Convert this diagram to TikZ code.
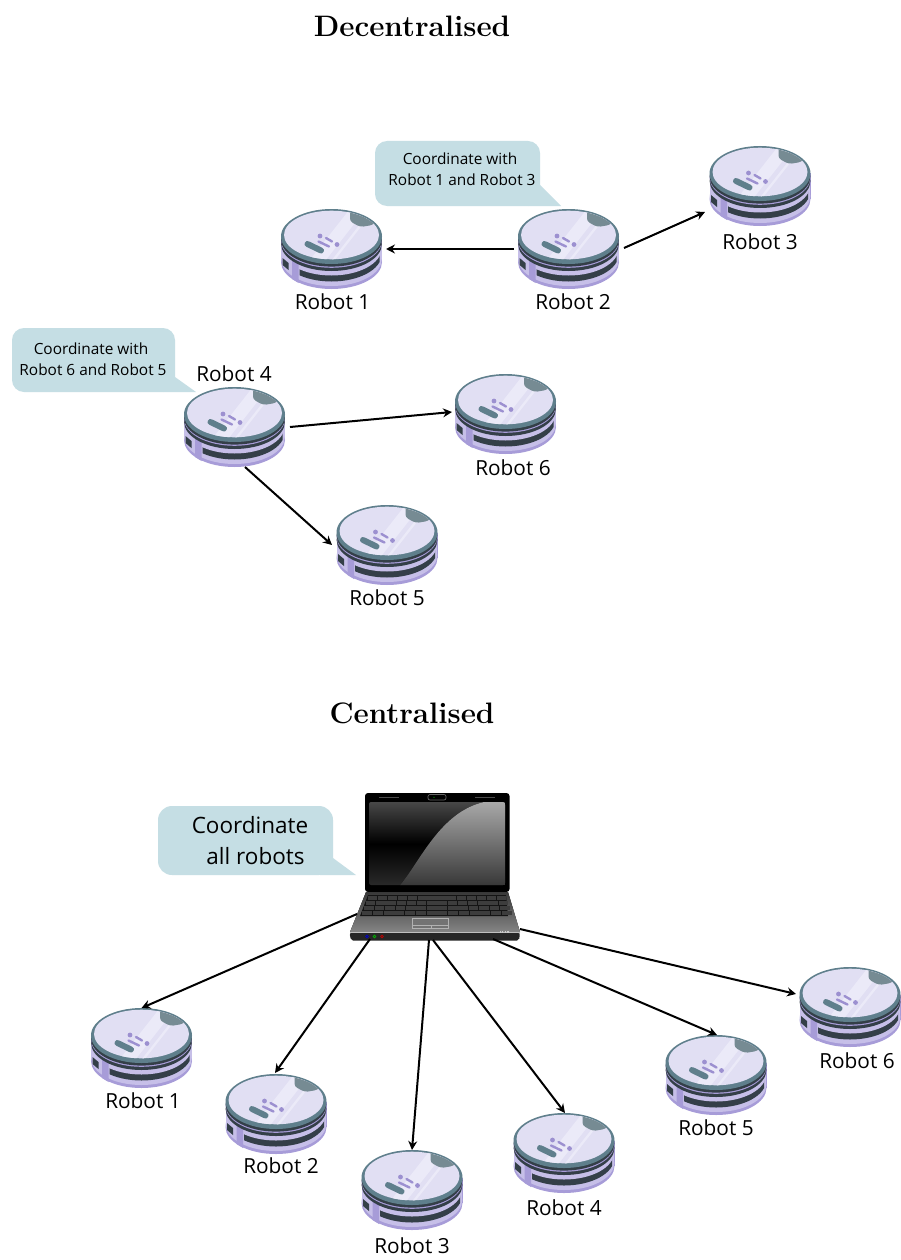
\documentclass[tikz,border=0pt]{standalone}
\usepackage{fontspec}
\setmainfont{Latin Modern Roman}
\newfontfamily\lab{Open Sans}
\usetikzlibrary{arrows.meta,calc}
\definecolor{bub}{HTML}{C5DEE4}
\definecolor{rim}{HTML}{5F7F8C}
\definecolor{disc}{HTML}{E1DFF3}
\definecolor{discl}{HTML}{EBEAF8}
\definecolor{purA}{HTML}{A79CD8}
\definecolor{purB}{HTML}{C6BFE8}
\definecolor{dk}{HTML}{343F48}
\definecolor{btn}{HTML}{768B93}
\definecolor{dot}{HTML}{9C90D0}
% painted cylinder: half-width, bottom edge at centre, colour
\newcommand{\cyl}[3]{%
 \fill[#3] (0,#2-27) ellipse[x radius=#1,y radius=27];
 \fill[#3] (-#1,-12.5) rectangle (#1,#2-27);
}
\tikzset{
 x=1pt,y=-1pt,
 robotbox/.style={minimum width=101pt,minimum height=80pt,inner sep=0pt,outer sep=0pt},
 lapbox/.style={minimum width=171pt,minimum height=148pt,inner sep=0pt,outer sep=0pt},
 rlabel/.style={font=\lab\fontsize{20.8}{20.8}\selectfont,inner sep=0pt},
 blabel/.style={font=\lab\fontsize{15.4}{15.4}\selectfont,inner sep=0pt},
 bigblabel/.style={font=\lab\fontsize{22.5}{22.5}\selectfont,inner sep=0pt},
 titlelabel/.style={font=\bfseries\fontsize{29.6}{29.6}\selectfont,inner sep=0pt},
 conn/.style={-{Stealth[length=9pt,width=9pt,inset=3pt]},line width=2pt,black},
 bubble/.style={fill=bub,draw=none},
 robot/.pic={
  \cyl{50.5}{40}{purA}
  \cyl{50.3}{37}{purB}
  \begin{scope}
   \clip (-32,-20) rectangle (48,42);
   \cyl{50}{32.5}{dk}
  \end{scope}
  \cyl{50}{26.5}{purB}
  \fill[dk] (-49,9) -- (-43,14) -- (-43,21) -- (-49,16) -- cycle;
  \fill[purA] (-39.5,10) -- (-33,14) -- (-33,34) -- (-39.5,30) -- cycle;
  \cyl{50.4}{22}{dk}
  \cyl{50.4}{18.8}{purA}
  \cyl{50.4}{17.6}{dk}
  % top disc
  \fill[rim] (0,-12.5) ellipse[x radius=50.5,y radius=27.5];
  \fill[disc] (0,-14) ellipse[x radius=47.5,y radius=24.3];
  \begin{scope}
   \clip (0,-14) ellipse[x radius=47.5,y radius=24.3];
   \fill[discl] (-24,14) -- (20,-42) -- (36,-42) -- (-8,14) -- cycle;
   \fill[discl] (-2,14) -- (42,-42) -- (45,-42) -- (1,14) -- cycle;
   \fill[btn,rounded corners=3pt] (18.5,-42) -- (18.5,-27.5) -- (29,-22) -- (41,-24) -- (48,-30) -- (48,-42) -- cycle;
  \end{scope}
  \draw[rim,line width=6pt,line cap=round] (-24,-5) -- (-10.5,1.5);
  \fill[dot] (-11.5,-13) circle (2.4);
  \draw[dot,line width=2.4pt,line cap=round] (-5.5,-11) -- (0.5,-7.5);
  \draw[dot,line width=2.4pt,line cap=round] (-13,-7.5) -- (-2.5,-2.5);
  \fill[dot] (5.5,-4.5) circle (2.4);
 }
}
\newcommand{\robot}[6]{%
 \node[robotbox] (#1) at (#2,#3) {};
 \pic at (#1.center) {robot};
 \node[rlabel] (#1l) at (#4,#5) {#6};
}
\begin{document}
\begin{tikzpicture}
\useasboundingbox (0,0) rectangle (901,1260);
\fill[white] (0,0) rectangle (901,1260);
\node[titlelabel] (t1) at (412,26) {Decentralised};
\node[titlelabel] (t2) at (412,713) {Centralised};
% bubbles
\fill[bubble,rounded corners=12pt] (375,141) -- (540,141) -- (540,206) -- (375,206) -- cycle;
\fill[bubble] (528,206) -- (540,185) -- (561,206) -- cycle;
\node[blabel] (b1a) at (460,159) {Coordinate with};
\node[blabel] (b1b) at (462,180) {Robot 1 and Robot 3};
\fill[bubble,rounded corners=12pt] (12,328) -- (175,328) -- (175,392) -- (12,392) -- cycle;
\fill[bubble] (163,392) -- (175,377) -- (196,392) -- cycle;
\node[blabel] (b2a) at (91,349) {Coordinate with};
\node[blabel] (b2b) at (93,370) {Robot 6 and Robot 5};
\fill[bubble,rounded corners=14pt] (158,806) -- (333,806) -- (333,875) -- (158,875) -- cycle;
\fill[bubble] (320,875) -- (333,858) -- (356,875) -- cycle;
\node[bigblabel] (b3a) at (250,825) {Coordinate};
\node[bigblabel] (b3b) at (255.5,856) {all robots};
% decentralised robots
\robot{a1}{331.5}{249}{332.5}{302}{Robot 1}
\robot{a2}{568.5}{249}{573}{302}{Robot 2}
\robot{a3}{760}{186}{760}{242}{Robot 3}
\robot{a4}{234.5}{427}{234}{374}{Robot 4}
\robot{a5}{387}{545}{387}{598}{Robot 5}
\robot{a6}{505.5}{414}{513}{468}{Robot 6}
% centralised robots
\robot{c1}{141.5}{1048}{143}{1101}{Robot 1}
\robot{c2}{276}{1114}{281}{1166}{Robot 2}
\robot{c3}{412}{1190}{412}{1246}{Robot 3}
\robot{c4}{564}{1153}{564}{1208}{Robot 4}
\robot{c5}{716}{1075}{716}{1128}{Robot 5}
\robot{c6}{850}{1007}{857}{1061}{Robot 6}
% laptop
\node[lapbox] (lap) at (434.5,867) {};
\fill[black,rounded corners=3pt] (365,793) rectangle (509.5,892);
\fill[rounded corners=2pt,top color=black!72,bottom color=black!84,middle color=black] (369,802) rectangle (505,885);
\fill[top color=black!34,bottom color=black!78] (400,885) .. controls (420,862) and (440,812) .. (484,802) -- (503,802) .. controls (505,802) and (505,803) .. (505,805) -- (505,883) .. controls (505,885) and (505,885) .. (503,885) -- cycle;
\draw[black!70,line width=.8pt] (379,797.5) -- (399,797.5) (475,797.5) -- (495,797.5);
\draw[black!60,line width=.7pt,rounded corners=2pt] (428,794.5) rectangle (446,800);
\fill[green!70!black] (434,797.2) circle (.7);
\fill[top color=black!78,bottom color=black!48] (366,892) -- (508,892) -- (520,932) -- (350,932) -- cycle;
\fill[black!92] (368,895) -- (506,895) -- (508,916) -- (360,916) -- cycle;
\foreach \r in {0,1,2,3}{
 \pgfmathsetmacro{\yy}{896+\r*5}
 \pgfmathsetmacro{\xl}{367.5-\r*1.9}
 \pgfmathsetmacro{\wd}{(139+\r*3.8)/14}
 \foreach \k in {0,...,13}{
  \fill[black!76] ({\xl+\k*\wd+.4},\yy) rectangle ({\xl+(\k+1)*\wd-.4},{\yy+4});
 }
}
\fill[black!55,draw=black!30,line width=.7pt] (412,918) rectangle (448,928);
\draw[black!30,line width=.6pt] (412,925) -- (448,925) (431,925) -- (431,928);
\fill[black!25] (349.5,932) rectangle (520,933.5);
\fill[black!85,rounded corners=2pt] (349.5,933) -- (520,933) -- (519,940.5) -- (351,940.5) -- cycle;
\draw[blue!80!black,line width=.8pt] (367,936.5) circle (1.4);
\draw[green!70!black,line width=.8pt] (374.5,936.5) circle (1.4);
\draw[red!75!black,line width=.8pt] (382,936.5) circle (1.4);
\foreach \k in {0,1,2,3}{\fill[black!20] ({499.5+\k*2.6},931) rectangle ({500.7+\k*2.6},932.5);}
% connectors
\draw[conn] ([shift={(-54.5,0)}]a2.center) -- ([shift={(54.5,0)}]a1.center);
\draw[conn] ([shift={(55.5,-1)}]a2.center) -- ([shift={(-55,26)}]a3.center);
\draw[conn] ([shift={(55.5,0)}]a4.center) -- ([shift={(-53.5,-2)}]a6.center);
\draw[conn] ([shift={(10.5,40)}]a4.center) -- ([shift={(-55,0)}]a5.center);
\draw[conn] ([shift={(-77.5,47)}]lap.center) -- ([shift={(0,-40)}]c1.center);
\draw[conn] ([shift={(-64.5,72)}]lap.center) -- ([shift={(-1,-41)}]c2.center);
\draw[conn] ([shift={(-5.5,73)}]lap.center) -- ([shift={(0,-40)}]c3.center);
\draw[conn] ([shift={(-1.5,73)}]lap.center) -- ([shift={(1,-40)}]c4.center);
\draw[conn] ([shift={(58.5,72)}]lap.center) -- ([shift={(1,-40)}]c5.center);
\draw[conn] ([shift={(85.5,62)}]lap.center) -- ([shift={(-54,-13)}]c6.center);
\end{tikzpicture}
\end{document}
